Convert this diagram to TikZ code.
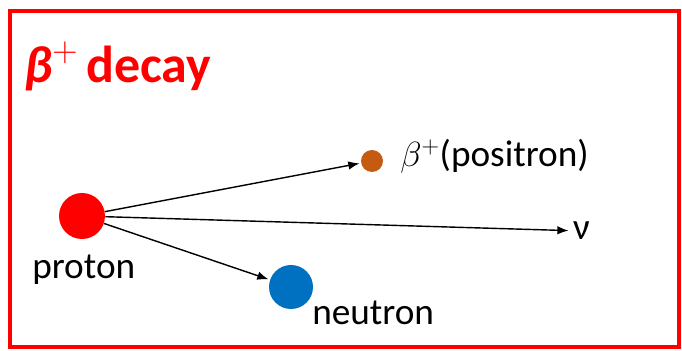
\documentclass[tikz,border=0pt]{standalone}
\usepackage{fontspec}
\setmainfont{Carlito}
\usetikzlibrary{arrows.meta,positioning}
\definecolor{posorange}{RGB}{197,90,17}
\definecolor{neublue}{RGB}{0,112,192}
\tikzset{
  particle/.style={circle, draw=none, inner sep=0pt},
  decayarrow/.style={-{Latex[length=8pt,width=6pt]}, line width=1pt, black, shorten >=1pt},
  plabel/.style={font=\fontsize{26.5}{30}\selectfont, inner sep=0pt},
  titlelabel/.style={font=\fontsize{37}{40}\selectfont\bfseries, text=red, inner sep=0pt},
}

\begin{document}
\begin{tikzpicture}
  \useasboundingbox (0,0) rectangle (17.05,8.775);
  \draw[red, line width=2.8pt] (0.25,0.1) rectangle (16.975,8.5);

  \node[titlelabel, anchor=base west] (heading) at (0.6,6.7)
    {\itshape β\upshape\raisebox{0.42em}{\fontsize{28}{28}\selectfont$+$}\,decay};

  \node[particle, fill=red, minimum size=1.15cm] (proton) at (2.05,3.375) {};
  \node[particle, fill=neublue, minimum size=1.1cm] (neutron) at (7.275,1.6) {};
  \node[particle, fill=posorange, minimum size=0.55cm] (positron) at (9.3,4.75) {};

  \node[plabel, anchor=base west] (plab) at (0.8,1.82) {proton};
  \node[plabel, anchor=base west] (nlab) at (7.8,0.65) {neutron};
  \node[plabel, anchor=base west] (poslab) at (10.0,4.62) {$\beta^{+}$(positron)};
  \node[plabel, anchor=west, inner sep=2pt] (nu) at (14.25,3.0) {ν};

  \draw[decayarrow] (proton) -- (positron);
  \draw[decayarrow] (proton) -- (nu);
  \draw[decayarrow] (proton) -- (neutron);
\end{tikzpicture}
\end{document}
